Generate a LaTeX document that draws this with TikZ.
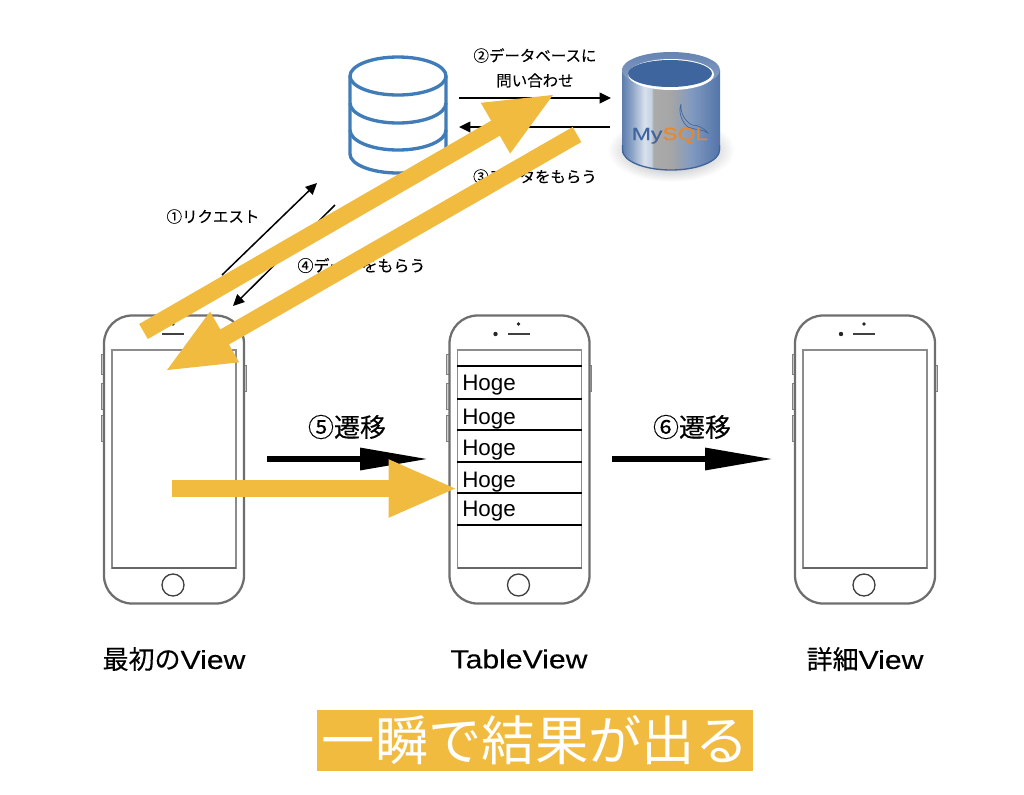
\documentclass[tikz,border=0pt]{standalone}
\usepackage{fontspec}
\setmainfont{Liberation Sans}
\newfontfamily\jpfont[FakeBold=0.25]{Noto Sans CJK JP}
\newfontfamily\capfont{Noto Sans CJK JP}
\newfontfamily\widefont[FakeStretch=1.16,FakeBold=0.25]{Liberation Sans}
\newfontfamily\sqlfont[FakeStretch=1.3,FakeBold=0.3]{Liberation Sans}
\usetikzlibrary{arrows.meta}
\definecolor{hiliteyellow}{HTML}{F0BB3E}
\definecolor{dbblue}{HTML}{3F7CB8}
\definecolor{phonegray}{HTML}{6E6E6E}
\definecolor{sqlblue}{HTML}{3F659F}
\definecolor{sqlorange}{HTML}{E8882A}
\pgfdeclarehorizontalshading{sqlbody}{100bp}{
	color(0bp)=(sqlblue!85!white); color(25bp)=(sqlblue!85!white); color(30bp)=(sqlblue!60!white); color(36.5bp)=(sqlblue!20!white);
	color(40bp)=(sqlblue!30!white); color(41bp)=(black!33!white); color(50bp)=(black!35!white);
	color(60bp)=(sqlblue!65!white); color(75bp)=(sqlblue!90!white); color(100bp)=(sqlblue!90!white)}
\tikzset{
	thinarrow/.style={black, line width=1.5*0.75pt, -{Triangle[length=8.5pt,width=8pt]}},
	stepblack/.style={black, line width=4pt, -{Triangle[length=51pt,width=16pt]}},
	hilite/.style={hiliteyellow, line width=13pt, -{Triangle[length=52pt,width=39.5pt]}},
	smalltext/.style={font=\jpfont\fontsize{11.6pt}{13pt}\selectfont, inner sep=0pt},
	bigtext/.style={font=\jpfont\fontsize{19.5pt}{22pt}\selectfont, inner sep=0pt},
	hogetext/.style={font=\fontsize{16.8pt}{18pt}\selectfont, inner sep=0pt, anchor=west},
	rowline/.style={black, line width=1.5pt},
	phoneline/.style={phonegray, line width=1.7pt},
	buttonline/.style={black!50!white, fill=black!18!white, line width=0.6pt},
	dbline/.style={dbblue, line width=2.5pt}
}
\begin{document}
\begin{tikzpicture}[x=0.75pt,y=-0.75pt]
	\useasboundingbox (0,0) rectangle (1024,794);

	%phones
	\foreach \shiftx in {0,345.5,691} {
		\begin{scope}[xshift=\shiftx*0.75pt]
			\draw[buttonline] (101,354) rectangle (104,374);
			\draw[buttonline] (101,383) rectangle (104,409);
			\draw[buttonline] (101,415) rectangle (104,441);
			\draw[buttonline] (243,365) rectangle (246,391);
			\draw[phoneline, fill=white, rounded corners=21pt] (104,315.5) rectangle (244,603.5);
			\draw[black!45!white, line width=0.8pt] (112,350) rectangle (236,568);
			\draw[black!60!white, line width=0.8pt] (112,568) -- (236,568);
			\draw[black!75!white, line width=1pt] (173,585) circle (11);
			\draw[black!75!white, line width=1.7pt] (162,334) -- (184,334);
			\fill[black!85!white] (150,334) circle (2.2);
			\fill[black!85!white] (173,324) circle (1.8);
		\end{scope}
	}

	%rows of the table
	\foreach \rowy in {366,399,430,462,493,525} {
		\draw[rowline] (457,\rowy) -- (582,\rowy);
	}
	\foreach \rowy/\rowname in {385/a,419/b,450/c,482/d,511/e} {
		\node[hogetext] (hoge\rowname) at (462,\rowy) {Hoge};
	}

	%database
	\draw[dbline, fill=white] (350,76) -- (350,154) arc[start angle=180,end angle=0,x radius=48,y radius=19] -- (446,76);
	\draw[dbline] (350,103) arc[start angle=180,end angle=0,x radius=48,y radius=20];
	\draw[dbline] (350,130) arc[start angle=180,end angle=0,x radius=48,y radius=20];
	\draw[dbline] (398,76) ellipse [x radius=48,y radius=19];

	%mysql
	\shade[inner color=black!45!white, outer color=white] (671,150) ellipse [x radius=64,y radius=32];
	\shade[shading=sqlbody] (622,70) -- (622,150) arc[start angle=180,end angle=0,x radius=49,y radius=20] -- (720,70) -- cycle;
	\draw[sqlblue, line width=1pt] (622.5,145) -- (622.5,150) arc[start angle=180,end angle=0,x radius=48.5,y radius=20] -- (719.5,145);
	\shade[top color=sqlblue!80!white, bottom color=sqlblue!60!white] (671,70) ellipse [x radius=49,y radius=18];
	\fill[white] (671,74.5) ellipse [x radius=43,y radius=15.5];
	\fill[sqlblue] (670,73.5) ellipse [x radius=42,y radius=13.5];
	\draw[sqlblue, line width=0.5pt] (681,104) .. controls (680,114) and (686,122) .. (692,125) .. controls (698,125) and (704,128) .. (708,133) .. controls (702,129) and (696,130) .. (691,128) .. controls (685,128) and (677,114) .. (681,104);
	\node[inner sep=0pt, anchor=base, font=\sqlfont\fontsize{13.2pt}{15pt}\selectfont] (mysql) at (670,140) {\textcolor{sqlblue}{My}\textcolor{sqlorange}{SQL}};

	%labels
	\node[smalltext] (asklabel) at (535,55.5) {②データベースに};
	\node[smalltext] (asklabelb) at (535,80.5) {問い合わせ};
	\node[smalltext] (datalabel) at (535,176.5) {③データをもらう};
	\node[smalltext] (reqlabel) at (213,216.5) {①リクエスト};
	\node[smalltext, font=\jpfont\fontsize{12pt}{13pt}\selectfont] (backlabel) at (361.5,265.5) {④データをもらう};
	\node[bigtext] (movelabel) at (347,427) {⑤遷移};
	\node[bigtext] (movelabelb) at (692,427) {⑥遷移};
	\node[bigtext] (firstname) at (174,659) {最初の{\widefont View}};
	\node[bigtext] (tablename) at (519,659) {{\widefont TableView}};
	\node[bigtext] (detailname) at (865,659) {詳細{\widefont View}};

	%ends of the connectors
	\coordinate (dbright) at (459,98);
	\coordinate (sqlleft) at (611,98);
	\coordinate (sqlback) at (610,127);
	\coordinate (dbback) at (459,127);
	\coordinate (phoneup) at (222,275);
	\coordinate (dbdown) at (317,183);
	\coordinate (dbreturn) at (335,205);
	\coordinate (phonedown) at (233,306);
	\coordinate (firstout) at (267,459);
	\coordinate (tablein) at (428,459);
	\coordinate (tableout) at (612,459);
	\coordinate (detailin) at (773,459);

	%thin arrows
	\draw[thinarrow] (dbright) -- (sqlleft);
	\draw[thinarrow] (sqlback) -- (dbback);
	\draw[thinarrow] (phoneup) -- (dbdown);
	\draw[thinarrow] (dbreturn) -- (phonedown);
	\draw[stepblack] (firstout) -- (tablein);
	\draw[stepblack] (tableout) -- (detailin);

	%highlights
	\coordinate (hiaout) at (143.5,331.5);
	\coordinate (hiain) at (555.5,93.5);
	\coordinate (hibout) at (577,134.5);
	\coordinate (hibin) at (164.5,371.5);
	\coordinate (hicout) at (172,488.5);
	\coordinate (hicin) at (458,488.5);
	\draw[hilite] (hiaout) -- (hiain);
	\draw[hilite] (hibout) -- (hibin);
	\draw[hilite] (hicout) -- (hicin);

	%caption
	\node[fill=hiliteyellow, text=white, inner sep=0pt, minimum width=436*0.75pt, minimum height=61*0.75pt, font=\capfont\fontsize{40pt}{44pt}\selectfont] (caption) at (535,740.5) {一瞬で結果が出る};
\end{tikzpicture}
\end{document}
